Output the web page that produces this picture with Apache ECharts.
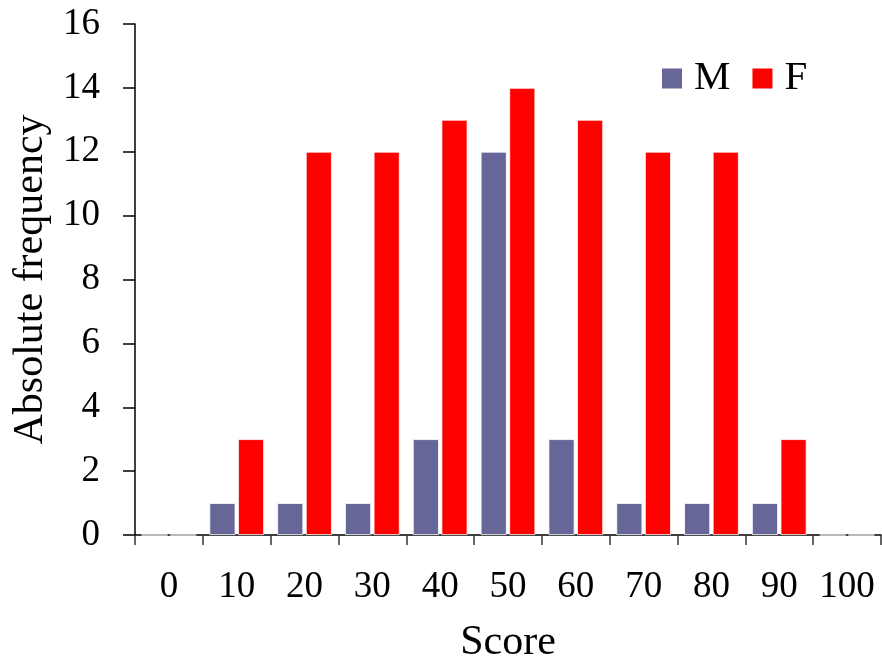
<!DOCTYPE html>
<html>
<head>
<meta charset="utf-8">
<script src="https://cdn.jsdelivr.net/npm/echarts@6/dist/echarts.min.js"></script>
<style>
  html, body { margin: 0; padding: 0; background: #fff; }
  #chart { width: 882px; height: 659px; }
</style>
</head>
<body>
<div id="chart"></div>
<script>
// Score bins and absolute frequencies per group
const scores = ['0', '10', '20', '30', '40', '50', '60', '70', '80', '90', '100'];
const maleCounts = [0, 1, 1, 1, 3, 12, 3, 1, 1, 1, 0];
const femaleCounts = [0, 3, 12, 12, 13, 14, 13, 12, 12, 3, 0];
const yTicks = [0, 2, 4, 6, 8, 10, 12, 14, 16];

const FONT = '"Liberation Serif", "Times New Roman", serif';
const chart = echarts.init(document.getElementById('chart'), null, { renderer: 'canvas' });

chart.setOption({
  animation: false,
  backgroundColor: '#ffffff',
  textStyle: { fontFamily: FONT },
  grid: { left: 135, top: 24, width: 746, height: 511, containLabel: false, outerBoundsMode: 'none' },
  legend: {
    left: 655, top: 53,
    itemWidth: 22, itemHeight: 22, itemGap: 20,
    icon: 'rect',
    textStyle: { fontFamily: FONT, fontSize: 41, color: '#000', padding: [0, 0, 0, 6] },
    data: ['M', 'F']
  },
  xAxis: {
    type: 'category',
    data: scores,
    name: 'Score',
    nameLocation: 'middle',
    nameGap: 87,
    nameTextStyle: { fontFamily: FONT, fontSize: 42, color: '#000' },
    axisLine: { show: true, lineStyle: { color: '#000', width: 1.5 } },
    axisTick: { show: true, interval: 0, alignWithLabel: false, length: 10, lineStyle: { color: '#333', width: 1.5 } },
    axisLabel: { interval: 0, hideOverlap: false, margin: 34, fontFamily: FONT, fontSize: 37, color: '#000' },
    splitLine: { show: false }
  },
  yAxis: {
    type: 'value',
    min: yTicks[0],
    max: yTicks[yTicks.length - 1],
    interval: yTicks[1] - yTicks[0],
    name: 'Absolute frequency',
    nameLocation: 'middle',
    nameGap: 80,
    nameTextStyle: { fontFamily: FONT, fontSize: 42, color: '#000' },
    axisLine: { show: true, lineStyle: { color: '#000', width: 1.5 } },
    axisTick: { show: true, inside: false, length: 12, lineStyle: { color: '#000', width: 1.5 } },
    axisLabel: { margin: 35, fontFamily: FONT, fontSize: 37, color: '#000' },
    splitLine: { show: false }
  },
  series: [
    {
      name: 'M',
      type: 'bar',
      data: maleCounts,
      barWidth: 26,
      barGap: '10%',
      itemStyle: { color: '#666699', borderColor: '#ffffff', borderWidth: 0.8 }
    },
    {
      name: 'F',
      type: 'bar',
      data: femaleCounts,
      barWidth: 26,
      barGap: '10%',
      itemStyle: { color: '#ff0000', borderColor: '#ffffff', borderWidth: 0.8 }
    }
  ]
});
</script>
</body>
</html>
